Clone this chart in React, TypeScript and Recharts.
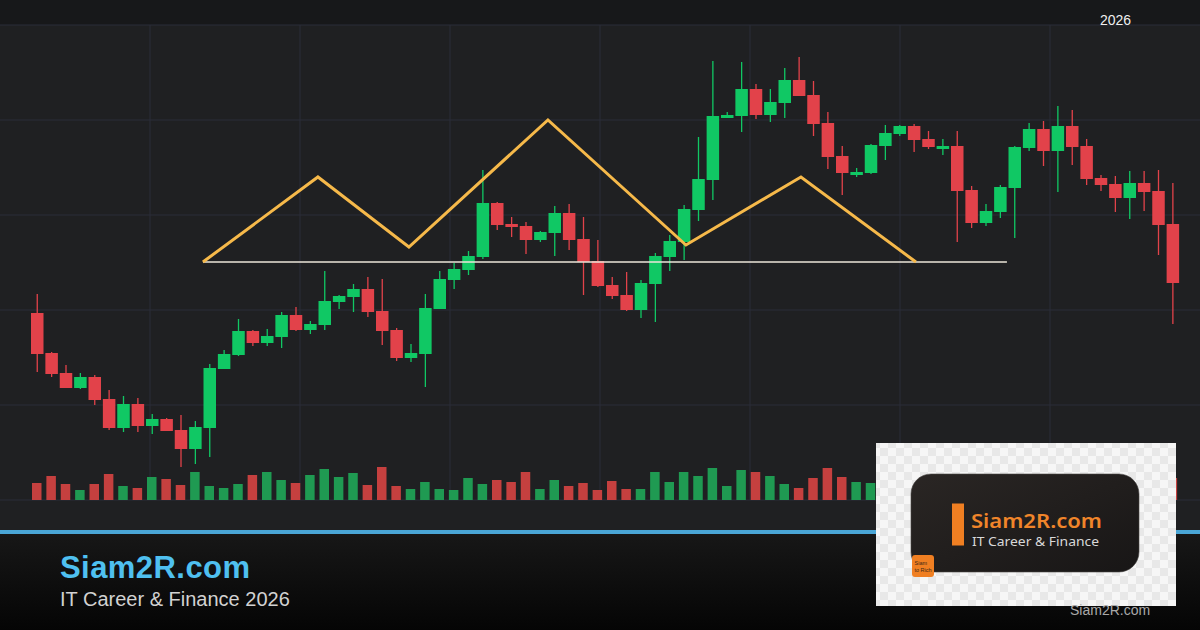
import { ComposedChart, Bar, Line, XAxis, YAxis, CartesianGrid, Cell } from 'recharts';

// price points per candle (1 grid step = 95)
const OPEN = [1087, 1047, 1027, 1012, 1023, 1001, 972, 996, 974, 981, 970, 951, 972, 1031, 1045, 1069, 1057, 1063, 1085, 1070, 1075, 1098, 1103, 1111, 1089, 1070, 1042, 1046, 1091, 1120, 1130, 1143, 1197, 1176, 1174, 1160, 1167, 1187, 1161, 1139, 1115, 1105, 1090, 1116, 1143, 1158, 1190, 1220, 1282, 1284, 1311, 1285, 1297, 1320, 1305, 1277, 1244, 1225, 1227, 1254, 1266, 1274, 1261, 1251, 1254, 1210, 1177, 1188, 1212, 1252, 1271, 1249, 1274, 1254, 1222, 1216, 1202, 1217, 1209, 1176];
const HIGH = [1106, 1048, 1035, 1027, 1025, 1010, 1004, 1002, 986, 982, 985, 979, 1036, 1050, 1081, 1070, 1071, 1088, 1093, 1079, 1129, 1105, 1116, 1123, 1121, 1072, 1056, 1106, 1129, 1137, 1149, 1230, 1198, 1183, 1178, 1169, 1194, 1196, 1183, 1160, 1123, 1128, 1120, 1147, 1165, 1195, 1263, 1339, 1288, 1338, 1316, 1311, 1332, 1343, 1319, 1288, 1254, 1232, 1256, 1275, 1275, 1276, 1269, 1261, 1269, 1214, 1196, 1215, 1254, 1277, 1279, 1294, 1290, 1261, 1225, 1224, 1229, 1229, 1230, 1217];
const LOW = [1028, 1023, 1012, 1011, 995, 970, 968, 968, 966, 969, 933, 936, 943, 1031, 1044, 1054, 1054, 1052, 1069, 1066, 1070, 1091, 1088, 1083, 1055, 1039, 1038, 1013, 1091, 1111, 1125, 1141, 1170, 1163, 1146, 1158, 1144, 1150, 1105, 1113, 1101, 1089, 1082, 1078, 1129, 1140, 1179, 1200, 1282, 1268, 1281, 1278, 1282, 1304, 1264, 1231, 1205, 1223, 1226, 1240, 1264, 1248, 1251, 1245, 1158, 1172, 1174, 1182, 1162, 1249, 1234, 1208, 1235, 1215, 1209, 1188, 1181, 1189, 1145, 1076];
const CLOSE = [1046, 1026, 1012, 1023, 1000, 972, 996, 974, 981, 969, 951, 973, 1032, 1046, 1069, 1057, 1064, 1085, 1070, 1076, 1099, 1104, 1111, 1088, 1069, 1042, 1047, 1092, 1121, 1131, 1144, 1197, 1175, 1173, 1160, 1168, 1187, 1160, 1138, 1114, 1104, 1090, 1117, 1144, 1159, 1191, 1221, 1284, 1285, 1311, 1285, 1298, 1320, 1304, 1276, 1243, 1227, 1228, 1255, 1267, 1274, 1260, 1253, 1254, 1209, 1177, 1189, 1213, 1253, 1271, 1249, 1274, 1253, 1221, 1215, 1202, 1217, 1208, 1175, 1117];
const VOLUME = [170, 240, 160, 100, 160, 260, 140, 120, 230, 210, 150, 280, 140, 120, 160, 250, 280, 200, 170, 250, 310, 230, 270, 150, 330, 140, 110, 180, 110, 100, 220, 160, 200, 180, 280, 110, 200, 140, 170, 100, 190, 110, 110, 280, 180, 280, 240, 320, 140, 300, 280, 240, 160, 120, 220, 320, 230, 180, 170, 200, 150, 220, 180, 120, 300, 250, 160, 190, 270, 210, 240, 290, 220, 170, 140, 200, 160, 190, 260, 220];

// pattern overlay (x in candle index units)
const PATTERN_X = [11.53, 19.53, 25.86, 35.53, 45.13, 53.13, 61.13];
const PATTERN_Y = [1138, 1223, 1153, 1280, 1155, 1223, 1138];
const NECK_X = [11.53, 67.46];
const NECK_Y = [1138, 1138];

const PRICE_TICKS = [900, 995, 1090, 1185, 1280, 1375];
// plot spans the full 1200px width with no side margin
const GRID_X = [150, 300, 450, 600, 750, 900, 1050];

const UP = '#10c864';
const DOWN = '#e2424a';
const VOL_UP = '#1f9a52';
const VOL_DOWN = '#c5403f';

const candles = OPEN.map((open, i) => ({
  t: i,
  x: i,
  open,
  high: HIGH[i],
  low: LOW[i],
  close: CLOSE[i],
  vol: VOLUME[i],
}));
const pattern = PATTERN_X.map((x, i) => ({ x, y: PATTERN_Y[i] }));
const neck = NECK_X.map((x, i) => ({ x, y: NECK_Y[i] }));

const PAD = { left: 30, right: 20 };

function Candle(props: any) {
  const { x, y, width, height, payload } = props;
  if (!payload || width == null) return null;
  const { open, close, high, low } = payload;
  const top = Math.min(y, y + height);
  const h = Math.abs(height);
  const k = h / (high - low || 1);
  const yOf = (v: number) => top + (high - v) * k;
  const color = close >= open ? UP : DOWN;
  const bTop = yOf(Math.max(open, close));
  const bBot = yOf(Math.min(open, close));
  const cx = x + width / 2;
  return (
    <g>
      <line x1={cx} x2={cx} y1={top} y2={top + h} stroke={color} strokeWidth={1.3} />
      <rect x={x} y={bTop} width={width} height={Math.max(bBot - bTop, 1.5)} fill={color} />
    </g>
  );
}

export default function App() {
  const font = '"Liberation Sans", Arial, sans-serif';
  return (
    <div style={{ position: 'absolute', left: 0, top: 0, width: 1200, height: 630, overflow: 'hidden', background: '#1f2022', fontFamily: font }}>
      <div style={{ position: 'absolute', left: 0, top: 0, width: 1200, height: 25, background: '#17181a' }} />
      <div style={{ position: 'absolute', left: 0, top: 530, width: 1200, height: 4, background: '#4aa6d6' }} />
      <div style={{ position: 'absolute', left: 0, top: 534, width: 1200, height: 96, background: 'linear-gradient(#171717, #050505)' }} />

      <div style={{ position: 'absolute', left: 0, top: 0 }}>
        <ComposedChart width={1200} height={530} data={candles} margin={{ top: 25, right: 0, bottom: 30, left: 0 }}>
          <XAxis xAxisId="c" dataKey="t" type="category" hide padding={PAD} />
          <XAxis xAxisId="v" dataKey="t" type="category" hide padding={PAD} />
          <XAxis xAxisId="n" dataKey="x" type="number" domain={[-0.5, 79.5]} allowDataOverflow hide padding={PAD} />
          <YAxis yAxisId="p" domain={[900, 1375]} ticks={PRICE_TICKS} allowDataOverflow hide />
          <YAxis yAxisId="v" domain={[0, 4750]} allowDataOverflow hide />
          <CartesianGrid xAxisId="n" yAxisId="p" stroke="#2a2d39" strokeWidth={1} verticalPoints={GRID_X} />
          <Bar xAxisId="v" yAxisId="v" dataKey="vol" barSize={9.5} isAnimationActive={false}>
            {candles.map((d, i) => (
              <Cell key={i} fill={d.close >= d.open ? VOL_UP : VOL_DOWN} />
            ))}
          </Bar>
          <Bar
            xAxisId="c"
            yAxisId="p"
            dataKey={(d: any) => [d.low, d.high]}
            barSize={12.5}
            isAnimationActive={false}
            shape={(p: any) => <Candle {...p} />}
          />
          <Line xAxisId="n" yAxisId="p" data={neck} dataKey="y" stroke="#ece6da" strokeWidth={1.4} dot={false} activeDot={false} isAnimationActive={false} />
          <Line xAxisId="n" yAxisId="p" data={pattern} dataKey="y" stroke="#f6b94a" strokeWidth={3} strokeLinejoin="miter" dot={false} activeDot={false} isAnimationActive={false} />
        </ComposedChart>
      </div>

      <svg width={1200} height={630} style={{ position: 'absolute', left: 0, top: 0, pointerEvents: 'none' }}>
        <defs>
          <pattern id="chk" width="16" height="16" patternUnits="userSpaceOnUse">
            <rect width="16" height="16" fill="#f6f6f6" />
            <rect width="8" height="8" fill="#e8e8e8" />
            <rect x="8" y="8" width="8" height="8" fill="#e8e8e8" />
          </pattern>
          <linearGradient id="dark" x1="0" y1="0" x2="1" y2="1">
            <stop offset="0%" stopColor="#2a2624" />
            <stop offset="100%" stopColor="#181616" />
          </linearGradient>
        </defs>
        <text x={1100} y={25} fontSize={14} fill="#f0f0f0" fontFamily={font}>2026</text>

        <text x={60} y={578} fontSize={31} fontWeight="bold" fill="#4fc0f0" fontFamily={font} textLength={190}>Siam2R.com</text>
        <text x={60} y={606} fontSize={20} fill="#d2d2d2" fontFamily={font}>IT Career &amp; Finance 2026</text>

        <rect x={876} y={443} width={300} height={163} fill="url(#chk)" />
        <rect x={911} y={474} width={228} height={98} rx={20} fill="url(#dark)" stroke="#4a4644" strokeWidth={0.6} />
        <rect x={952} y={503.5} width={12} height={42} fill="#f07f22" />
        <text x={971} y={528} fontSize={19} fontWeight={600} fill="#f0852a" fontFamily='"Noto Sans", sans-serif' textLength={131} lengthAdjust="spacingAndGlyphs">Siam2R.com</text>
        <text x={972} y={546} fontSize={12.5} fill="#d8d8d8" fontFamily='"Noto Sans", sans-serif' textLength={127} lengthAdjust="spacingAndGlyphs">IT Career &amp; Finance</text>
        <rect x={912} y={555} width={22} height={22} rx={3} fill="#f07f22" />
        <text x={914.5} y={565} fontSize={5.5} fill="#3b2716" fontFamily={font}>Siam</text>
        <text x={914.5} y={571.5} fontSize={5.5} fill="#3b2716" fontFamily={font}>to Rich</text>

        <text x={1070} y={615} fontSize={14} fill="#a9a9a9" fontFamily={font}>Siam2R.com</text>
      </svg>
    </div>
  );
}
